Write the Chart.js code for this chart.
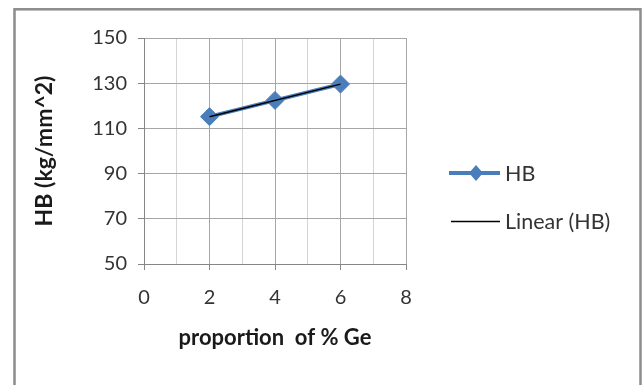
<!DOCTYPE html>
<html>
<head>
<meta charset="utf-8">
<script src="https://cdn.jsdelivr.net/npm/chart.js@4.4.1/dist/chart.umd.min.js"></script>
<style>
  html, body { margin: 0; padding: 0; background: #fff; }
  #wrap { width: 644px; height: 385px; position: relative; }
</style>
</head>
<body>
<div id="wrap"><canvas id="c" width="644" height="385"></canvas></div>
<script>
// Hardness vs. germanium content
const geProportion = [2, 4, 6];
const hbValues = [115.2, 122.4, 129.6];
const xTicks = [0, 2, 4, 6, 8];
const yTicks = [50, 70, 90, 110, 130, 150];
const seriesName = 'HB';
const trendName = 'Linear (HB)';

// least-squares fit for the linear trend line
function linearFit(xs, ys) {
  const n = xs.length;
  const mx = xs.reduce((a, b) => a + b, 0) / n;
  const my = ys.reduce((a, b) => a + b, 0) / n;
  let sxy = 0, sxx = 0;
  for (let i = 0; i < n; i++) {
    sxy += (xs[i] - mx) * (ys[i] - my);
    sxx += (xs[i] - mx) * (xs[i] - mx);
  }
  const slope = sxy / sxx;
  return x => my + slope * (x - mx);
}
const fit = linearFit(geProportion, hbValues);
const trendX = [geProportion[0], geProportion[geProportion.length - 1]];

const FONT = 'Lato, "Liberation Sans", sans-serif';
const BLUE = '#4a7ebb';
const TEXT = '#333333';

const frame = {
  id: 'frame',
  beforeDraw(chart) {
    const ctx = chart.ctx;
    ctx.save();
    ctx.fillStyle = '#fff';
    ctx.fillRect(0, 0, chart.width, chart.height);
    ctx.strokeStyle = '#8c8c8c';
    ctx.lineWidth = 2.5;
    ctx.strokeRect(14.5, 9.3, 626, 400);
    ctx.restore();
  }
};

const sideLegend = {
  id: 'sideLegend',
  afterDraw(chart) {
    const ctx = chart.ctx;
    ctx.save();
    // HB entry
    ctx.strokeStyle = BLUE;
    ctx.lineWidth = 4;
    ctx.beginPath(); ctx.moveTo(449, 173); ctx.lineTo(500, 173); ctx.stroke();
    ctx.fillStyle = BLUE;
    ctx.beginPath();
    ctx.moveTo(476 - 7, 173); ctx.lineTo(476, 173 - 8); ctx.lineTo(476 + 7, 173); ctx.lineTo(476, 173 + 8);
    ctx.closePath(); ctx.fill();
    // trend entry
    ctx.strokeStyle = '#000';
    ctx.lineWidth = 1.3;
    ctx.beginPath(); ctx.moveTo(451, 221.5); ctx.lineTo(500, 221.5); ctx.stroke();
    ctx.fillStyle = TEXT;
    ctx.font = '21.5px ' + FONT;
    ctx.textBaseline = 'middle';
    ctx.textAlign = 'left';
    ctx.fillText(seriesName, 505, 174);
    ctx.fillText(trendName, 505, 222);
    ctx.restore();
  }
};

new Chart(document.getElementById('c'), {
  type: 'scatter',
  data: {
    datasets: [
      {
        label: trendName,
        data: trendX.map(x => ({ x: x, y: fit(x) })),
        showLine: true,
        borderColor: '#000',
        borderWidth: 1.5,
        pointRadius: 0,
        order: 0
      },
      {
        label: seriesName,
        data: geProportion.map((x, i) => ({ x: x, y: hbValues[i] })),
        showLine: true,
        borderColor: BLUE,
        borderWidth: 4,
        pointStyle: 'rectRot',
        pointRadius: 9,
        pointBackgroundColor: BLUE,
        pointBorderColor: BLUE,
        pointBorderWidth: 1,
        order: 1
      }
    ]
  },
  plugins: [frame, sideLegend],
  options: {
    responsive: false,
    animation: false,
    events: [],
    layout: { padding: { left: 0, top: 38, right: 238, bottom: 0 } },
    plugins: { legend: { display: false }, tooltip: { enabled: false } },
    scales: {
      x: {
        type: 'linear',
        min: xTicks[0],
        max: xTicks[xTicks.length - 1],
        ticks: {
          stepSize: 1,
          padding: 16,
          color: TEXT,
          font: { family: FONT, size: 20 },
          callback: v => (xTicks.includes(v) ? String(v) : '')
        },
        grid: {
          color: c => (xTicks.includes(c.tick.value) ? '#a6a6a6' : '#d4d4d4'),
          tickColor: c => (xTicks.includes(c.tick.value) ? '#868686' : 'rgba(0,0,0,0)'),
          tickLength: 6,
          lineWidth: 1
        },
        border: { display: true, color: '#868686', width: 1 },
        title: {
          display: true,
          text: 'proportion  of % Ge',
          color: '#1a1a1a',
          font: { family: FONT, size: 22, weight: 'bold' },
          padding: { top: 0, bottom: 34 }
        },
        afterFit: s => { s.height = 121; }
      },
      y: {
        min: yTicks[0],
        max: yTicks[yTicks.length - 1],
        ticks: {
          stepSize: 20,
          padding: 11,
          color: TEXT,
          font: { family: FONT, size: 20 }
        },
        grid: {
          color: '#a6a6a6',
          tickColor: '#868686',
          tickLength: 6,
          lineWidth: 1
        },
        border: { display: true, color: '#868686', width: 1 },
        title: {
          display: true,
          text: 'HB (kg/mm^2)',
          color: '#1a1a1a',
          font: { family: FONT, size: 23, weight: 'bold' },
          padding: { top: 31, bottom: 0 }
        },
        afterFit: s => { s.width = 144; }
      }
    }
  }
});
</script>
</body>
</html>
